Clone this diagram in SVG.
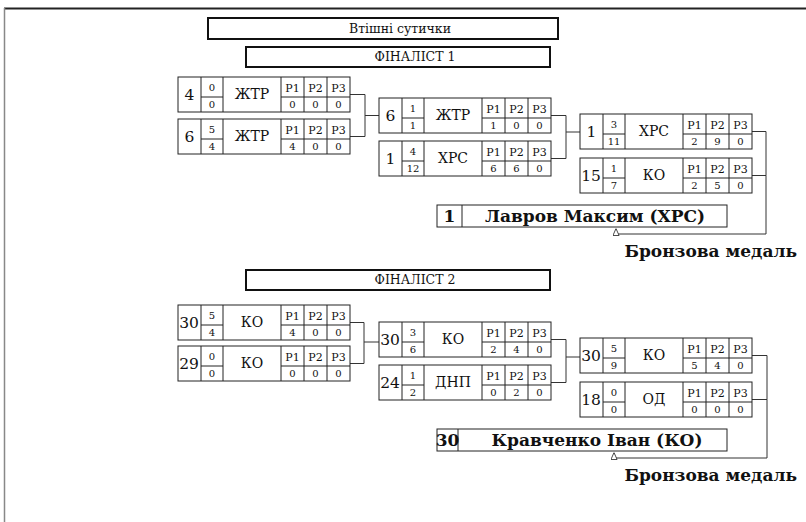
<svg xmlns="http://www.w3.org/2000/svg" width="806" height="522" viewBox="0 0 806 522">
<defs>
<style>
text{font-family:"DejaVu Serif","Liberation Serif",serif;fill:#111;text-anchor:middle}
.cr{fill:#fff;stroke:#222;stroke-width:1}
.cl{fill:none;stroke:#222;stroke-width:1}
.sd{font-size:15.5px}
.sc{font-size:10px}
.nm{font-size:14px}
.pl{font-size:11px}
.pv{font-size:10px}
.hd rect{fill:#fff;stroke:#111;stroke-width:2}
.hd text{font-size:12.5px}
.res rect,.res line{fill:#fff;stroke:#222;stroke-width:1}
.res text{font-weight:bold;font-size:17px}
.br{font-weight:bold;font-size:17px;text-anchor:end}
.cn path{fill:none;stroke:#333;stroke-width:1}
</style>
<marker id="ar" viewBox="0 0 8 8" refX="8" refY="4" markerWidth="7" markerHeight="7" markerUnits="userSpaceOnUse" orient="auto">
<path d="M0,0.5 L8,4 L0,7.5 Z" fill="#fff" stroke="#333" stroke-width="1"/>
</marker>
<g id="cell">
<rect class="cr" x="0" y="0" width="172" height="35"/>
<path class="cl" d="M23,0 V35 M45,0 V35 M103,0 V35 M126,0 V35 M149,0 V35 M23,20 H45 M103,20 H172"/>
</g>
</defs>
<rect width="806" height="522" fill="#fff"/>
<line x1="4" y1="8.5" x2="806" y2="8.5" stroke="#222" stroke-width="2"/>
<line x1="4.5" y1="8" x2="4.5" y2="522" stroke="#888" stroke-width="1.5"/>

<g id="title" class="hd">
<rect x="208" y="18" width="350" height="21"/>
<text x="400" y="33">Втішні сутички</text>
</g>
<g id="fin1" class="hd">
<rect x="246" y="47" width="304" height="20"/>
<text x="415" y="61">ФІНАЛІСТ 1</text>
</g>
<g id="fin2" class="hd">
<rect x="246" y="270" width="304" height="20"/>
<text x="415" y="284">ФІНАЛІСТ 2</text>
</g>

<g id="connectors" class="cn">
<path d="M350,94.5 H365 V136.5 H350 M365,115.5 H379"/>
<path d="M551,115.5 H566 V158.5 H551 M566,132 H580"/>
<path d="M752,131.5 H766 V175.5 H752 M766,175.5 V234 H616 V228.5" marker-end="url(#ar)"/>
<path d="M350,322.5 H364 V363.5 H350 M364,342 H379"/>
<path d="M551,339.5 H566 V382.5 H551 M566,357 H580"/>
<path d="M752,355.5 H767 V399.5 H752 M767,399.5 V458 H614 V452.5" marker-end="url(#ar)"/>
</g>

<g id="f1r1a" transform="translate(178,77)">
<use href="#cell"/>
<text class="sd" x="11.5" y="23">4</text>
<text class="sc" x="34" y="14">0</text><text class="sc" x="34" y="31">0</text>
<text class="nm" x="74" y="22">ЖТР</text>
<text class="pl" x="114.5" y="15">P1</text><text class="pl" x="137.5" y="15">P2</text><text class="pl" x="160.5" y="15">P3</text>
<text class="pv" x="114.5" y="31">0</text><text class="pv" x="137.5" y="31">0</text><text class="pv" x="160.5" y="31">0</text>
</g>
<g id="f1r1b" transform="translate(178,119)">
<use href="#cell"/>
<text class="sd" x="11.5" y="23">6</text>
<text class="sc" x="34" y="14">5</text><text class="sc" x="34" y="31">4</text>
<text class="nm" x="74" y="22">ЖТР</text>
<text class="pl" x="114.5" y="15">P1</text><text class="pl" x="137.5" y="15">P2</text><text class="pl" x="160.5" y="15">P3</text>
<text class="pv" x="114.5" y="31">4</text><text class="pv" x="137.5" y="31">0</text><text class="pv" x="160.5" y="31">0</text>
</g>
<g id="f1r2a" transform="translate(379,98)">
<use href="#cell"/>
<text class="sd" x="11.5" y="23">6</text>
<text class="sc" x="34" y="14">1</text><text class="sc" x="34" y="31">1</text>
<text class="nm" x="74" y="22">ЖТР</text>
<text class="pl" x="114.5" y="15">P1</text><text class="pl" x="137.5" y="15">P2</text><text class="pl" x="160.5" y="15">P3</text>
<text class="pv" x="114.5" y="31">1</text><text class="pv" x="137.5" y="31">0</text><text class="pv" x="160.5" y="31">0</text>
</g>
<g id="f1r2b" transform="translate(379,141)">
<use href="#cell"/>
<text class="sd" x="11.5" y="23">1</text>
<text class="sc" x="34" y="14">4</text><text class="sc" x="34" y="31">12</text>
<text class="nm" x="74" y="22">ХРС</text>
<text class="pl" x="114.5" y="15">P1</text><text class="pl" x="137.5" y="15">P2</text><text class="pl" x="160.5" y="15">P3</text>
<text class="pv" x="114.5" y="31">6</text><text class="pv" x="137.5" y="31">6</text><text class="pv" x="160.5" y="31">0</text>
</g>
<g id="f1r3a" transform="translate(580,114)">
<use href="#cell"/>
<text class="sd" x="11.5" y="23">1</text>
<text class="sc" x="34" y="14">3</text><text class="sc" x="34" y="31">11</text>
<text class="nm" x="74" y="22">ХРС</text>
<text class="pl" x="114.5" y="15">P1</text><text class="pl" x="137.5" y="15">P2</text><text class="pl" x="160.5" y="15">P3</text>
<text class="pv" x="114.5" y="31">2</text><text class="pv" x="137.5" y="31">9</text><text class="pv" x="160.5" y="31">0</text>
</g>
<g id="f1r3b" transform="translate(580,158)">
<use href="#cell"/>
<text class="sd" x="11" y="23">15</text>
<text class="sc" x="34" y="14">1</text><text class="sc" x="34" y="31">7</text>
<text class="nm" x="74" y="22">КО</text>
<text class="pl" x="114.5" y="15">P1</text><text class="pl" x="137.5" y="15">P2</text><text class="pl" x="160.5" y="15">P3</text>
<text class="pv" x="114.5" y="31">2</text><text class="pv" x="137.5" y="31">5</text><text class="pv" x="160.5" y="31">0</text>
</g>
<g id="f1res" class="res">
<rect x="437" y="205" width="290" height="22"/>
<line x1="462" y1="205" x2="462" y2="227"/>
<text x="449.5" y="222">1</text>
<text x="595" y="222">Лавров Максим (ХРС)</text>
</g>
<text id="f1bronze" class="br" x="797" y="257">Бронзова медаль</text>

<g id="f2r1a" transform="translate(178,305)">
<use href="#cell"/>
<text class="sd" x="11" y="23">30</text>
<text class="sc" x="34" y="14">5</text><text class="sc" x="34" y="31">4</text>
<text class="nm" x="74" y="22">КО</text>
<text class="pl" x="114.5" y="15">P1</text><text class="pl" x="137.5" y="15">P2</text><text class="pl" x="160.5" y="15">P3</text>
<text class="pv" x="114.5" y="31">4</text><text class="pv" x="137.5" y="31">0</text><text class="pv" x="160.5" y="31">0</text>
</g>
<g id="f2r1b" transform="translate(178,346)">
<use href="#cell"/>
<text class="sd" x="11" y="23">29</text>
<text class="sc" x="34" y="14">0</text><text class="sc" x="34" y="31">0</text>
<text class="nm" x="74" y="22">КО</text>
<text class="pl" x="114.5" y="15">P1</text><text class="pl" x="137.5" y="15">P2</text><text class="pl" x="160.5" y="15">P3</text>
<text class="pv" x="114.5" y="31">0</text><text class="pv" x="137.5" y="31">0</text><text class="pv" x="160.5" y="31">0</text>
</g>
<g id="f2r2a" transform="translate(379,322)">
<use href="#cell"/>
<text class="sd" x="11" y="23">30</text>
<text class="sc" x="34" y="14">3</text><text class="sc" x="34" y="31">6</text>
<text class="nm" x="74" y="22">КО</text>
<text class="pl" x="114.5" y="15">P1</text><text class="pl" x="137.5" y="15">P2</text><text class="pl" x="160.5" y="15">P3</text>
<text class="pv" x="114.5" y="31">2</text><text class="pv" x="137.5" y="31">4</text><text class="pv" x="160.5" y="31">0</text>
</g>
<g id="f2r2b" transform="translate(379,365)">
<use href="#cell"/>
<text class="sd" x="11" y="23">24</text>
<text class="sc" x="34" y="14">1</text><text class="sc" x="34" y="31">2</text>
<text class="nm" x="74" y="22">ДНП</text>
<text class="pl" x="114.5" y="15">P1</text><text class="pl" x="137.5" y="15">P2</text><text class="pl" x="160.5" y="15">P3</text>
<text class="pv" x="114.5" y="31">0</text><text class="pv" x="137.5" y="31">2</text><text class="pv" x="160.5" y="31">0</text>
</g>
<g id="f2r3a" transform="translate(580,338)">
<use href="#cell"/>
<text class="sd" x="11" y="23">30</text>
<text class="sc" x="34" y="14">5</text><text class="sc" x="34" y="31">9</text>
<text class="nm" x="74" y="22">КО</text>
<text class="pl" x="114.5" y="15">P1</text><text class="pl" x="137.5" y="15">P2</text><text class="pl" x="160.5" y="15">P3</text>
<text class="pv" x="114.5" y="31">5</text><text class="pv" x="137.5" y="31">4</text><text class="pv" x="160.5" y="31">0</text>
</g>
<g id="f2r3b" transform="translate(580,382)">
<use href="#cell"/>
<text class="sd" x="11" y="23">18</text>
<text class="sc" x="34" y="14">0</text><text class="sc" x="34" y="31">0</text>
<text class="nm" x="74" y="22">ОД</text>
<text class="pl" x="114.5" y="15">P1</text><text class="pl" x="137.5" y="15">P2</text><text class="pl" x="160.5" y="15">P3</text>
<text class="pv" x="114.5" y="31">0</text><text class="pv" x="137.5" y="31">0</text><text class="pv" x="160.5" y="31">0</text>
</g>
<g id="f2res" class="res">
<rect x="437" y="429" width="290" height="22"/>
<line x1="458" y1="429" x2="458" y2="451"/>
<text x="447.5" y="446">30</text>
<text x="597" y="446">Кравченко Іван (КО)</text>
</g>
<text id="f2bronze" class="br" x="797" y="481">Бронзова медаль</text>
</svg>
